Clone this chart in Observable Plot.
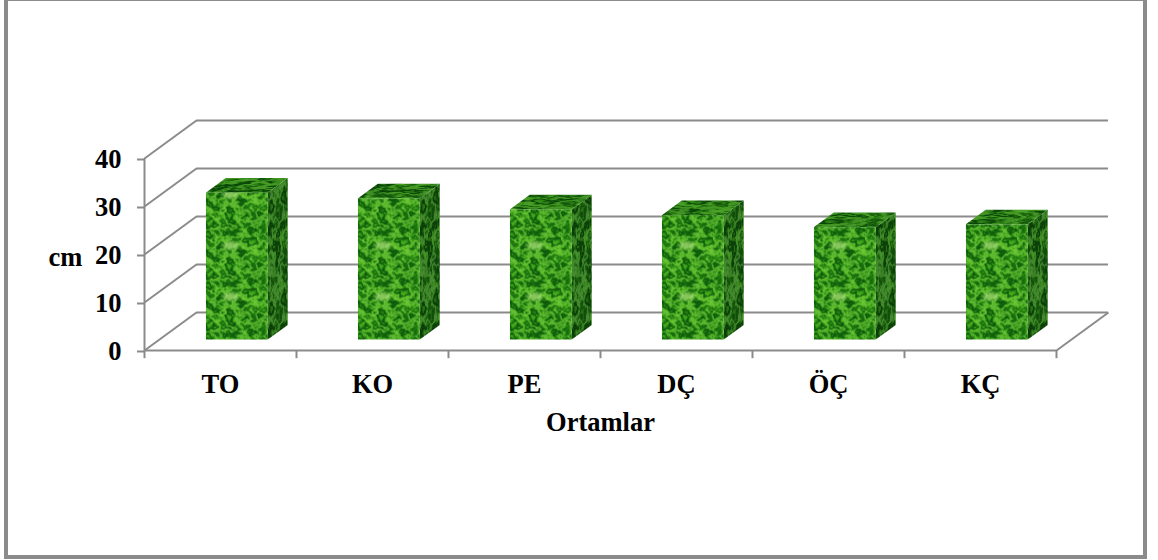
<!DOCTYPE html>
<html>
<head>
<meta charset="utf-8">
<script src="https://cdn.jsdelivr.net/npm/d3@7"></script>
<script src="https://cdn.jsdelivr.net/npm/@observablehq/plot@0.6"></script>
<style>
  html, body { margin: 0; padding: 0; background: #fff; overflow: hidden; }
  #chart { position: relative; width: 1158px; height: 560px; }
  #chart svg { display: block; position: absolute; left: 0; top: 0; }
  #panel { position: absolute; left: 4px; top: -3px; width: 1135px; height: 554px; border: 4px solid #8b8b8b; box-sizing: content-box; pointer-events: none; }
</style>
</head>
<body>
<div id="chart"><div id="panel"></div></div>
<script>
// Mean lengths per growing medium, in cm
const categories = ["TO", "KO", "PE", "DÇ", "ÖÇ", "KÇ"];
const heights = [30.6, 29.4, 27.1, 25.9, 23.4, 24.0];
const yTicks = [0, 10, 20, 30, 40];
const xEdges = [0, 1, 2, 3, 4, 5, 6];

// Oblique projection: one full unit of depth, in data units
const depthX = 0.342;
const depthY = 7.92;
const barLeft = 0.312;
const barWidth = 0.408;
const depthFront = 0.276;
const depthBack = 0.66;

const grey = "#8b8b8b";
const px = (d) => d * depthX;
const py = (d) => d * depthY;

const bars = categories.map((name, i) => ({ name, i, value: heights[i] }));
const faceX = (b, d) => b.i + barLeft + px(d);

const sideRows = bars.flatMap((b) => [depthFront, depthBack].map((d) => ({
  bar: b.name,
  x: faceX(b, d) + barWidth,
  y1: py(d),
  y2: b.value + py(d)
})));
const topRows = bars.flatMap((b) => [depthFront, depthBack].map((d) => ({
  bar: b.name,
  y: b.value + py(d),
  x1: faceX(b, d),
  x2: faceX(b, d) + barWidth
})));

const plot = Plot.plot({
  width: 1158,
  height: 560,
  marginLeft: 144,
  marginRight: 102,
  marginTop: 158,
  marginBottom: 210,
  style: { background: "transparent", fontFamily: "'Liberation Serif', serif", overflow: "visible" },
  x: { domain: [0, 6], axis: null },
  y: { domain: [0, 40], axis: null },
  marks: [
    // back wall
    Plot.ruleY(yTicks, { x1: px(1), x2: 6 + px(1), y: (v) => v + py(1), stroke: grey, strokeWidth: 2 }),
    // side wall
    Plot.link(yTicks, { x1: 0, y1: (v) => v, x2: px(1), y2: (v) => v + py(1), stroke: grey, strokeWidth: 2 }),
    // floor
    Plot.link([6], { x1: (x) => x, y1: 0, x2: (x) => x + px(1), y2: py(1), stroke: grey, strokeWidth: 2 }),
    Plot.ruleY([0], { x1: 0, x2: 6, stroke: grey, strokeWidth: 2 }),
    Plot.ruleX([0], { y1: 0, y2: 40, stroke: grey, strokeWidth: 2 }),
    Plot.ruleX(xEdges, { y1: 0, y2: -1.7, stroke: grey, strokeWidth: 2 }),

    // bars
    Plot.area(sideRows, { x1: "x", y1: "y1", y2: "y2", z: "bar", fill: "url(#leafSide)" }),
    Plot.area(topRows, { y1: "y", x1: "x1", x2: "x2", z: "bar", fill: "url(#leafTop)" }),
    Plot.rect(bars, {
      x1: (b) => faceX(b, depthFront),
      x2: (b) => faceX(b, depthFront) + barWidth,
      y1: py(depthFront),
      y2: (b) => b.value + py(depthFront),
      fill: "url(#leafFront)"
    }),

    // axes and titles
    Plot.axisY(yTicks, { anchor: "left", tickSize: 7, tickPadding: 16, stroke: grey, strokeWidth: 2, fill: "#000", fontSize: 26.5, fontWeight: "bold", label: null, dy: 1 }),
    Plot.axisX(xEdges.slice(0, -1).map((e) => e + 0.5), {
      anchor: "bottom",
      tickSize: 0,
      tickPadding: 24,
      tickFormat: (t) => categories[t - 0.5],
      fill: "#000",
      fontSize: 26.5,
      fontWeight: "bold",
      label: null
    }),
    Plot.text(["cm"], { x: -0.52, y: 19.3, fontSize: 26.5, fontWeight: "bold", fill: "#000" }),
    Plot.text(["Ortamlar"], { x: 3, y: -15, fontSize: 26.5, fontWeight: "bold", fill: "#000" })
  ]
});

// Leaf textures: a soft mottled base with dark and light curled edges on top
const xScale = plot.scale("x");
const yScale = plot.scale("y");
const step = xScale.apply(1) - xScale.apply(0);
const frontLeft = xScale.apply(barLeft + px(depthFront));
const frontWidth = xScale.apply(barWidth) - xScale.apply(0);
const frontBase = yScale.apply(py(depthFront));
const tileHeight = 51;

const defs = d3.select(plot).insert("defs", ":first-child");

function leafFilter(id, w, h, { baseFreq, edgeFreq, seed, tables, dark, light, blur }) {
  const f = defs.append("filter").attr("id", id)
    .attr("filterUnits", "userSpaceOnUse")
    .attr("x", 0).attr("y", 0).attr("width", w).attr("height", h)
    .attr("color-interpolation-filters", "sRGB");
  const noise = (frequency, octaves, s, result) => f.append("feTurbulence")
    .attr("type", "fractalNoise").attr("baseFrequency", frequency)
    .attr("numOctaves", octaves).attr("seed", s)
    .attr("stitchTiles", "stitch").attr("result", result);
  noise(baseFreq, 2, seed, "n1");
  noise(edgeFreq, 4, seed + 5, "n2");

  // soft base colour
  f.append("feColorMatrix").attr("in", "n1").attr("type", "matrix")
    .attr("values", "1 0 0 0 0  1 0 0 0 0  1 0 0 0 0  0 0 0 0 1");
  const t = f.append("feComponentTransfer").attr("result", "base");
  ["R", "G", "B"].forEach((c, i) => t.append(`feFunc${c}`).attr("type", "table").attr("tableValues", tables[i]));

  // iso-contours of the second noise become curled edges
  const band = (rgb, alphaTable, result) => {
    f.append("feColorMatrix").attr("in", "n2").attr("type", "matrix")
      .attr("values", `0 0 0 0 ${rgb[0]}  0 0 0 0 ${rgb[1]}  0 0 0 0 ${rgb[2]}  1 0 0 0 0`);
    f.append("feComponentTransfer").attr("result", result)
      .append("feFuncA").attr("type", "table").attr("tableValues", alphaTable);
  };
  band(dark, "0 0 0 0 0 .25 .85 .95 .5 .05 0 0 .05 .4 .7 .3 0 0 0 0 0", "dark");
  band(light, "0 0 0 0 0 0 0 0 0 .1 .45 .6 .1 0 0 0 0 .3 .6 .6 .6", "light");

  const m = f.append("feMerge");
  ["base", "light", "dark"].forEach((n) => m.append("feMergeNode").attr("in", n));
  f.append("feGaussianBlur").attr("stdDeviation", blur);
}

leafFilter("noiseFront", frontWidth, tileHeight, {
  baseFreq: "0.04 0.05",
  edgeFreq: "0.1 0.12",
  seed: 7,
  tables: [".08 .11 .15 .21 .27 .32 .32", ".40 .46 .54 .62 .68 .72 .72", ".04 .05 .07 .09 .11 .13 .13"],
  dark: [0.04, 0.32, 0.04],
  light: [0.55, 0.84, 0.3],
  blur: 0.55
});
leafFilter("noiseSide", step, tileHeight * 2, {
  baseFreq: "0.08 0.04",
  edgeFreq: "0.14 0.06",
  seed: 3,
  tables: [".06 .08 .12 .16 .20 .22 .22", ".30 .34 .40 .46 .52 .54 .54", ".04 .05 .07 .08 .09 .10 .10"],
  dark: [0.03, 0.22, 0.03],
  light: [0.36, 0.6, 0.28],
  blur: 0.6
});
leafFilter("noiseTop", step, tileHeight, {
  baseFreq: "0.03 0.12",
  edgeFreq: "0.04 0.2",
  seed: 11,
  tables: [".08 .10 .14 .18 .22 .24 .24", ".36 .40 .46 .52 .58 .60 .60", ".04 .05 .07 .08 .09 .10 .10"],
  dark: [0.03, 0.25, 0.03],
  light: [0.36, 0.66, 0.22],
  blur: 0.5
});
defs.append("filter").attr("id", "soft").append("feGaussianBlur").attr("stdDeviation", 1.8);

const front = defs.append("pattern").attr("id", "leafFront")
  .attr("patternUnits", "userSpaceOnUse")
  .attr("x", frontLeft).attr("y", frontBase)
  .attr("width", step).attr("height", tileHeight);
front.append("rect")
  .attr("width", frontWidth).attr("height", tileHeight)
  .attr("filter", "url(#noiseFront)");
// a pale leaf recurs once per tile
front.append("ellipse")
  .attr("cx", 25).attr("cy", 8).attr("rx", 8).attr("ry", 4)
  .attr("fill", "#aee27a").attr("opacity", 0.7).attr("filter", "url(#soft)");

[["leafSide", "noiseSide", tileHeight * 2], ["leafTop", "noiseTop", tileHeight]].forEach(([id, noise, h]) => {
  const p = defs.append("pattern").attr("id", id)
    .attr("patternUnits", "userSpaceOnUse")
    .attr("width", step).attr("height", h);
  p.append("rect").attr("width", step).attr("height", h).attr("filter", `url(#${noise})`);
});

document.getElementById("chart").prepend(plot);
</script>
</body>
</html>
